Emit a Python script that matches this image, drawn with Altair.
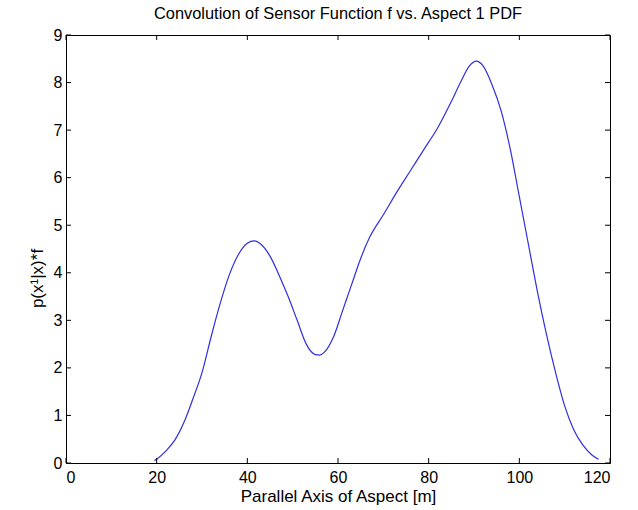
import altair as alt
import pandas as pd

# Curve values
xs = [19.5, 20, 22, 24, 26, 28, 30, 32, 34, 36, 38, 40, 41.5, 43, 45, 47, 49, 51, 53, 55, 56, 57,
      59, 61, 63, 65, 67, 70, 73, 76, 79, 82, 85, 87, 89, 90.5, 92, 94, 96, 98, 100, 102, 104,
      106, 108, 110, 112, 114, 116, 117.5]
ys = [0.05, 0.08, 0.25, 0.48, 0.85, 1.35, 1.9, 2.65, 3.35, 3.95, 4.38, 4.62, 4.67, 4.6, 4.35,
      3.95, 3.5, 3.0, 2.5, 2.28, 2.27, 2.33, 2.65, 3.2, 3.75, 4.3, 4.75, 5.22, 5.7, 6.15, 6.6,
      7.05, 7.6, 8.0, 8.35, 8.45, 8.35, 7.95, 7.4, 6.6, 5.6, 4.6, 3.6, 2.7, 1.9, 1.2, 0.7, 0.38,
      0.17, 0.08]

x_ticks = [0, 20, 40, 60, 80, 100, 120]
y_ticks = [0, 1, 2, 3, 4, 5, 6, 7, 8, 9]

TITLE = "Convolution of Sensor Function f vs. Aspect 1 PDF"
X_TITLE = "Parallel Axis of Aspect [m]"
Y_TITLE = "p(x¹|x)*f"

W, H = 544, 428
FONT = "Liberation Sans"

df = pd.DataFrame({"x": xs, "y": ys})
dfx = pd.DataFrame({"t": x_ticks})
dfy = pd.DataFrame({"t": y_ticks})
dft = pd.DataFrame({"label": [TITLE]})

xscale = alt.Scale(domain=[0, 120], nice=False, zero=False)
yscale = alt.Scale(domain=[0, 9], nice=False, zero=False)

line = alt.Chart(df).mark_line(color="#2f2fe0", strokeWidth=1.2, interpolate="monotone").encode(
    x=alt.X("x:Q", scale=xscale,
            axis=alt.Axis(values=x_ticks, title=X_TITLE, ticks=False,
                          grid=False, labelPadding=6, titlePadding=3, format="d")),
    y=alt.Y("y:Q", scale=yscale,
            axis=alt.Axis(values=y_ticks, title=Y_TITLE, ticks=False, grid=False,
                          labelPadding=4, titlePadding=7, titleY=243, format="d")),
)

tick_style = dict(color="black", strokeWidth=1)
xt_bottom = alt.Chart(dfx).mark_rule(**tick_style).encode(
    x=alt.X("t:Q", scale=xscale), y=alt.value(H), y2=alt.value(H - 5))
xt_top = alt.Chart(dfx).mark_rule(**tick_style).encode(
    x=alt.X("t:Q", scale=xscale), y=alt.value(0), y2=alt.value(5))
yt_left = alt.Chart(dfy).mark_rule(**tick_style).encode(
    y=alt.Y("t:Q", scale=yscale), x=alt.value(0), x2=alt.value(5))
yt_right = alt.Chart(dfy).mark_rule(**tick_style).encode(
    y=alt.Y("t:Q", scale=yscale), x=alt.value(W), x2=alt.value(W - 5))

title = alt.Chart(dft).mark_text(font=FONT, fontSize=16.4, color="black", align="center",
                                 baseline="alphabetic").encode(
    text="label:N", x=alt.value(W / 2), y=alt.value(-16))

chart = alt.layer(line, xt_bottom, xt_top, yt_left, yt_right, title).properties(
    width=W, height=H,
    autosize="none",
    padding={"left": 66, "top": 35, "right": 28, "bottom": 47},
    background="white",
).configure_view(stroke="black", strokeWidth=1).configure_axis(
    domainColor="black", labelColor="black", titleColor="black", labelFont=FONT,
    titleFont=FONT, labelFontSize=16, titleFontSize=17, titleFontWeight="normal",
)

chart.save("out.html", embed_options={"renderer": "svg", "actions": False})
